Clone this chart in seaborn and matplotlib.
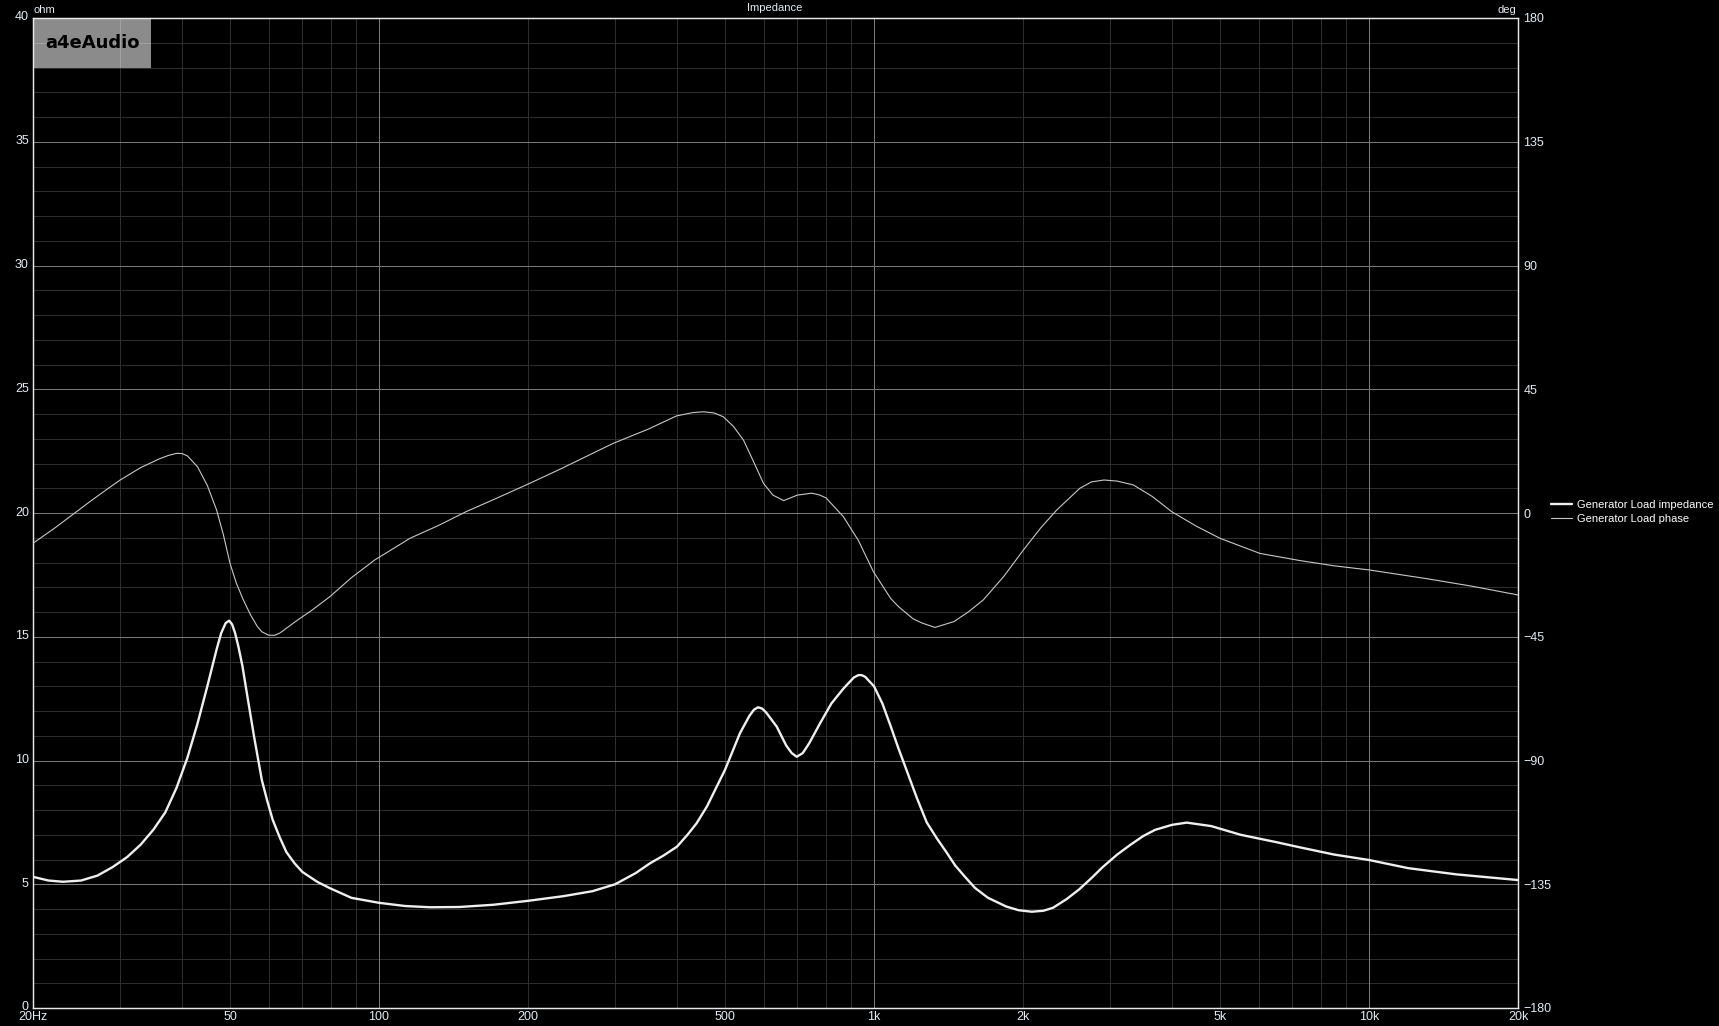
import matplotlib
matplotlib.use('Agg')
import matplotlib.pyplot as plt
import matplotlib.transforms as mtransforms
import seaborn as sns
import numpy as np
import pandas as pd
from matplotlib.ticker import FixedLocator, MultipleLocator, LogLocator, NullFormatter
from matplotlib.patches import Rectangle

# impedance curve (Hz, ohm)
freq_z = [20, 21.5, 23, 25, 27, 29, 31, 33, 35, 37, 39, 41, 43, 45, 47, 48, 49, 49.8, 50.5,
          51.2, 52, 53, 54, 56, 58, 59.5, 61, 63, 65, 67.5, 70, 75, 79.6, 88, 100, 113, 127,
          145, 170, 200, 236, 270, 300, 330, 353, 375, 400, 420, 438, 460, 481, 500, 536,
          560, 572, 583, 594, 605, 636, 665, 682, 698, 718, 740, 778, 820, 867, 910, 930,
          944, 960, 1000, 1040, 1080, 1120, 1164, 1220, 1278, 1340, 1400, 1460, 1527, 1600,
          1700, 1850, 1960, 2083, 2200, 2300, 2450, 2600, 2750, 2900, 3100, 3300, 3500,
          3700, 4000, 4284, 4800, 5500, 6500, 7254, 8500, 10000, 12000, 15000, 20000]
imp_z = [5.30, 5.15, 5.10, 5.15, 5.35, 5.7, 6.1, 6.6, 7.2, 7.9, 8.9, 10.1, 11.5, 13.0, 14.5,
         15.15, 15.55, 15.65, 15.5, 15.15, 14.6, 13.8, 12.8, 10.9, 9.2, 8.35, 7.6, 6.9, 6.3,
         5.85, 5.5, 5.1, 4.84, 4.45, 4.25, 4.12, 4.07, 4.08, 4.17, 4.33, 4.52, 4.72, 5.0,
         5.45, 5.85, 6.15, 6.52, 7.0, 7.46, 8.15, 8.94, 9.62, 11.1, 11.8, 12.05, 12.15, 12.1,
         11.95, 11.37, 10.6, 10.3, 10.15, 10.3, 10.7, 11.5, 12.3, 12.9, 13.35, 13.45, 13.45,
         13.38, 13.0, 12.3, 11.4, 10.5, 9.6, 8.5, 7.5, 6.85, 6.3, 5.75, 5.3, 4.85, 4.45, 4.1,
         3.95, 3.89, 3.93, 4.05, 4.4, 4.8, 5.25, 5.7, 6.2, 6.6, 6.95, 7.2, 7.4, 7.49, 7.35,
         7.0, 6.7, 6.49, 6.2, 5.98, 5.65, 5.4, 5.17]

# phase curve (Hz, degrees)
freq_ph = [20, 22, 23, 24, 26, 28, 30, 33, 36, 37.5, 39, 40, 41, 43, 45, 47, 48.5, 50, 51.5,
           53.2, 55, 56.8, 58, 59.8, 61.5, 63, 68.5, 73, 79.6, 88, 98, 115.5, 132, 150, 171,
           200, 232, 297, 350, 399, 430, 452, 475, 496, 520, 545, 570, 598, 625, 657, 700, 748,
           775, 800, 867, 930, 997, 1080, 1120, 1164, 1200, 1250, 1328, 1450, 1550, 1663,
           1830, 2003, 2170, 2340, 2606, 2750, 2915, 3100, 3342, 3650, 3993, 4480, 5000, 6023,
           7254, 8500, 10000, 13000, 16000, 20000]
phase_deg = [-11.0, -5.8, -3.2, -0.7, 4.0, 8.2, 12.0, 16.5, 19.7, 20.9, 21.7, 21.6, 20.8, 16.8,
             10.0, 1.0, -8.0, -18.3, -25.5, -31.6, -37.0, -41.3, -43.2, -44.4, -44.5, -43.7,
             -38.9, -35.5, -30.4, -23.5, -17.1, -9.2, -4.5, 0.5, 5.0, 10.5, 15.9, 25.3, 30.5,
             35.3, 36.5, 36.8, 36.4, 35.0, 31.5, 26.5, 19.0, 10.8, 6.5, 4.5, 6.5, 7.2, 6.6, 5.5,
             -1.3, -10.0, -21.3, -31.0, -34.0, -36.5, -38.5, -40.0, -41.6, -39.5, -36.0, -31.6,
             -23.0, -13.5, -5.5, 1.1, 9.0, 11.3, 12.0, 11.6, 10.2, 6.0, 0.5, -4.8, -9.2, -14.7,
             -17.3, -19.2, -20.7, -23.8, -26.5, -29.8]

x_ticks = [20, 50, 100, 200, 500, 1000, 2000, 5000, 10000, 20000]
x_labels = ['20Hz', '50', '100', '200', '500', '1k', '2k', '5k', '10k', '20k']
ohm_ticks = [0, 5, 10, 15, 20, 25, 30, 35, 40]
deg_ticks = [-180, -135, -90, -45, 0, 45, 90, 135, 180]
decades = [100, 1000, 10000]

txt = '#e4ecf4'
sns.set_theme(style='dark', rc={
    'figure.facecolor': 'black', 'axes.facecolor': 'black',
    'axes.edgecolor': '#e8e8e8', 'axes.linewidth': 0.9,
    'xtick.color': txt, 'ytick.color': txt, 'text.color': txt,
    'axes.labelcolor': txt,
})
plt.rcParams['font.family'] = ['Liberation Sans', 'DejaVu Sans']
fs = 8
tfs = 9

fig = plt.figure(figsize=(17.19, 10.26), dpi=100)
ax = fig.add_axes([33 / 1719, 18 / 1026, 1485 / 1719, 990 / 1026])
ax.set_xscale('log')
ax.set_xlim(20, 20000)
ax.set_ylim(0, 40)

# x grid: dark at every 1..9 step, lighter at decades
ax.xaxis.remove_overlapping_locs = False
ax.xaxis.set_major_locator(FixedLocator(x_ticks))
ax.set_xticklabels(x_labels)
ax.xaxis.set_minor_locator(LogLocator(base=10, subs=np.arange(1, 10), numticks=50))
ax.xaxis.set_minor_formatter(NullFormatter())
ax.yaxis.set_major_locator(FixedLocator(ohm_ticks))
ax.yaxis.set_minor_locator(MultipleLocator(1))
ax.grid(False)
ax.grid(which='minor', axis='both', color='#2e2e2e', linewidth=0.72)
ax.grid(which='major', axis='y', color='#7a7a7a', linewidth=0.72)
for d in decades:
    ax.axvline(d, color='#7a7a7a', linewidth=0.72, zorder=0.6)
ax.tick_params(which='both', length=0, labelsize=tfs)
ax.tick_params(axis='x', pad=2.5)
ax.tick_params(axis='y', pad=3)
lift = mtransforms.ScaledTranslation(0, 2 / 100, fig.dpi_scale_trans)
for lab in ax.get_yticklabels():
    lab.set_transform(lab.get_transform() + lift)
for s in ax.spines.values():
    s.set_color('#e8e8e8')

# logo box
ax.add_patch(Rectangle((0, 1 - 50 / 990), 118 / 1485, 50 / 990, transform=ax.transAxes,
                       facecolor='white', alpha=0.55, edgecolor='none', zorder=1))
ax.text(59 / 1485, 1 - 25 / 990, 'a4eAudio', transform=ax.transAxes, ha='center', va='center',
        fontsize=13, fontweight='bold', color='black', family='DejaVu Sans', zorder=2)

sns.lineplot(x=freq_z, y=imp_z, ax=ax, color='#efefef', linewidth=1.7, estimator=None,
             label='Generator Load impedance', legend=False, zorder=3)

ax2 = ax.twinx()
ax2.set_ylim(-180, 180)
ax2.yaxis.set_major_locator(FixedLocator(deg_ticks))
ax2.grid(False)
ax2.tick_params(which='both', length=0, labelsize=tfs, pad=4)
ax2.set_facecolor('none')
for s in ax2.spines.values():
    s.set_color('#e8e8e8')
sns.lineplot(x=freq_ph, y=phase_deg, ax=ax2, color='#c8c8c8', linewidth=0.8, estimator=None,
             label='Generator Load phase', legend=False, zorder=3)
ax.set_xlabel('')
ax.set_ylabel('')
ax2.set_ylabel('')

h1, l1 = ax.get_legend_handles_labels()
h2, l2 = ax2.get_legend_handles_labels()
fig.legend(h1 + h2, l1 + l2, loc='center left', bbox_to_anchor=(1551 / 1719, 1 - 512 / 1026),
           frameon=False, fontsize=fs, handlelength=1.9, handletextpad=0.4, borderpad=0,
           borderaxespad=0, labelspacing=0.35, labelcolor='white')

fig.text(34 / 1719, 1 - 10 / 1026, 'ohm', ha='left', va='center', fontsize=fs)
fig.text(1516 / 1719, 1 - 10 / 1026, 'deg', ha='right', va='center', fontsize=fs)
fig.text(775 / 1719, 1 - 8 / 1026, 'Impedance', ha='center', va='center', fontsize=fs)

fig.savefig('out.png', dpi=100, facecolor='black')
